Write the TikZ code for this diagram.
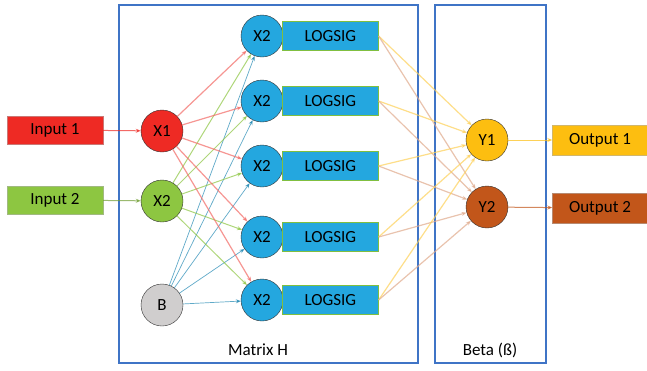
\documentclass[tikz,border=0pt]{standalone}
\usepackage{fontspec}
\setmainfont{Carlito}
\usepackage{xcolor}
\usetikzlibrary{arrows.meta, positioning}
\definecolor{inred}{HTML}{EE2A24}
\definecolor{ingreen}{HTML}{8DC641}
\definecolor{biasgray}{HTML}{D0CECE}
\definecolor{hidblue}{HTML}{24A7DF}
\definecolor{outyellow}{HTML}{FDBE10}
\definecolor{outbrown}{HTML}{C2561A}
\definecolor{frameblue}{HTML}{3F74C6}

\begin{document}
\begin{tikzpicture}[
    x=1pt, y=-1pt,
    >={Stealth[length=5pt, width=4pt]},
    every node/.style={font=\fontsize{17}{19}\selectfont},
    neuron/.style={circle, draw=black!80, thin, minimum size=42pt, inner sep=0pt, fill=#1},
    signal/.style={rectangle, draw=#1!70!black!60, thin, fill=#1, minimum width=96pt, minimum height=28pt, inner sep=0pt},
    actbox/.style={rectangle, draw=teal!50!yellow, thin, fill=hidblue, minimum width=96pt, minimum height=29pt, inner sep=0pt, anchor=west},
    frame/.style={draw=frameblue, line width=1.8pt},
    wire/.style={->, line width=1pt, draw=#1, opacity=0.7},
]

\useasboundingbox[fill=white] (0,0) rectangle (647,370);

% Frames
\draw[frame] (119,5) rectangle (418,363);
\draw[frame] (435,5) rectangle (546,363);
\node (labH) at (258,350) {Matrix H};
\node (labB) at (490,350) {Beta (ß)};

% Inputs and input layer
\node[signal=inred] (in1) at (55,130) {Input 1};
\node[signal=ingreen] (in2) at (55,200) {Input 2};
\node[neuron=inred] (x1) at (162,131) {X1};
\node[neuron=ingreen] (x2) at (162,201) {X2};
\node[neuron=biasgray] (b) at (162,305) {B};
\draw[wire=inred] (in1) -- (x1);
\draw[wire=ingreen!80!black] (in2) -- (x2);

% Hidden layer
\foreach \i/\y in {1/36, 2/101, 3/166, 4/237, 5/300} {
    \node[neuron=hidblue] (h\i) at (262,\y) {X2};
    \node[actbox] (ls\i) at ([xshift=-1pt]h\i.east) {LOGSIG};
    \draw[wire=inred!70!white, line width=1.2pt] (x1) -- (h\i);
    \draw[wire=ingreen] (x2) -- (h\i);
    \draw[wire=hidblue!80!black, line width=0.7pt] (b) -- (h\i);
}

% Output layer
\node[neuron=outyellow] (y1) at (487,140) {Y1};
\node[neuron=outbrown] (y2) at (487,207) {Y2};
\foreach \i in {1,...,5} {
    \draw[wire=outyellow!70!white, line width=1.2pt] (ls\i.east) -- (y1);
    \draw[wire=outbrown!50!white, line width=1.2pt] (ls\i.east) -- (y2);
}
\node[signal=outyellow, minimum width=95pt, minimum height=30pt] (out1) at (600,140) {Output 1};
\node[signal=outbrown, minimum width=95pt, minimum height=30pt] (out2) at (600,208) {Output 2};
\draw[wire=outyellow] (y1) -- (out1);
\draw[wire=outbrown] (y2) -- (out2);

\end{tikzpicture}
\end{document}
